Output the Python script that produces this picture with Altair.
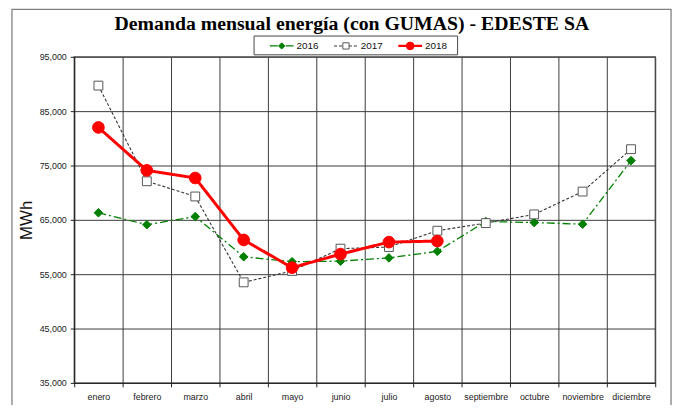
import altair as alt
import pandas as pd

meses = ["enero", "febrero", "marzo", "abril", "mayo", "junio", "julio",
         "agosto", "septiembre", "octubre", "noviembre", "diciembre"]
v2016 = [66300, 64100, 65600, 58200, 57300, 57400, 58000, 59200, 64700, 64500, 64200, 75900]
v2017 = [89700, 72100, 69300, 53500, 55600, 59700, 60000, 63000, 64400, 66000, 70200, 78000]
v2018 = [82000, 74100, 72700, 61300, 56200, 58700, 60900, 61100]
series_names = ["2016", "2017", "2018"]
titulo = "Demanda mensual energía (con GUMAS) - EDESTE SA"
y_ticks = [35000, 45000, 55000, 65000, 75000, 85000, 95000]

W, H = 588, 330
FONT = "Liberation Sans"

x_axis = alt.Axis(tickBand="extent", grid=True, gridColor="#3a3a3a",
                  gridWidth=1, tickColor="#222", tickSize=4, domainColor="#222",
                  labelFont=FONT, labelFontSize=9, labelColor="#222", labelPadding=6,
                  labelAngle=0, title=None)
y_axis = alt.Axis(values=y_ticks, format=",d", grid=True, gridColor="#3a3a3a", gridWidth=1,
                  tickColor="#222", tickSize=4, domainColor="#222", labelFont=FONT,
                  labelFontSize=9, labelColor="#222", labelPadding=4,
                  title="MWh", titleFont=FONT, titleFontSize=17, titleFontWeight="normal",
                  titleColor="#111", titleAngle=-90, titleX=-43, titleY=H / 2,
                  titleBaseline="alphabetic", titleAlign="center")


def xenc():
    return alt.X("mes:N", sort=meses,
                 scale=alt.Scale(type="band", domain=meses, paddingInner=0, paddingOuter=0),
                 bandPosition=0.5, axis=x_axis)


def yenc():
    return alt.Y("v:Q", scale=alt.Scale(domain=[35000, 95000], nice=False, zero=False),
                 axis=y_axis)


def df_for(vals):
    return pd.DataFrame({"mes": meses[:len(vals)], "v": vals})


styles = {
    "2016": dict(color="#008000", dash=[8, 3, 2, 3], width=1.3, shape="diamond",
                 size=75, fill="#008000", pstroke="#008000", lsize=40),
    "2017": dict(color="#333333", dash=[3, 2], width=1.1, shape="square",
                 size=80, fill="white", pstroke="#555555", lsize=40),
    "2018": dict(color="#ff0000", dash=[1, 0], width=3, shape="circle",
                 size=140, fill="#ff0000", pstroke="#ff0000", lsize=60),
}

layers = []

# outer frame
frame_df = pd.DataFrame({"t": [titulo]})
layers.append(
    alt.Chart(frame_df).mark_rect(fillOpacity=0, stroke="#808080", strokeWidth=1.3)
    .encode(x=alt.value(-63), x2=alt.value(604), y=alt.value(-48), y2=alt.value(370))
)

for name, vals in zip(series_names, [v2016, v2017, v2018]):
    s = styles[name]
    base = alt.Chart(df_for(vals)).encode(x=xenc(), y=yenc())
    layers.append(base.mark_line(color=s["color"], strokeDash=s["dash"],
                                 strokeWidth=s["width"]))
    layers.append(base.mark_point(shape=s["shape"], size=s["size"], filled=True,
                                  fill=s["fill"], stroke=s["pstroke"], strokeWidth=1,
                                  opacity=1))

# legend box
leg_df = pd.DataFrame({"n": series_names})
layers.append(
    alt.Chart(leg_df.head(1)).mark_rect(fill="white", stroke="#444", strokeWidth=1)
    .encode(x=alt.value(182), x2=alt.value(388), y=alt.value(-21), y2=alt.value(-2))
)
leg_x = [198, 263, 328]
for i, name in enumerate(series_names):
    s = styles[name]
    d = pd.DataFrame({"n": [name]})
    x0 = leg_x[i]
    layers.append(
        alt.Chart(d).mark_rule(color=s["color"], strokeDash=s["dash"],
                               strokeWidth=min(s["width"], 2.2))
        .encode(x=alt.value(x0), x2=alt.value(x0 + 24), y=alt.value(-11))
    )
    layers.append(
        alt.Chart(d).mark_point(shape=s["shape"], size=s["lsize"], filled=True,
                                fill=s["fill"], stroke=s["pstroke"], strokeWidth=1, opacity=1)
        .encode(x=alt.value(x0 + 12), y=alt.value(-11))
    )
    layers.append(
        alt.Chart(d).mark_text(font=FONT, fontSize=10, color="#111", align="left",
                               baseline="middle")
        .encode(text="n:N", x=alt.value(x0 + 27), y=alt.value(-11))
    )

# title
layers.append(
    alt.Chart(frame_df).mark_text(font="Liberation Serif", fontSize=20, fontWeight="bold",
                                  color="#000", align="center", baseline="middle")
    .encode(text="t:N", x=alt.value(281), y=alt.value(-33))
)

chart = alt.layer(*layers).properties(
    width=W, height=H,
    autosize=alt.AutoSizeParams(type="none"),
    padding={"left": 67, "top": 47, "right": 20, "bottom": 20},
).configure_view(stroke="#808080", strokeWidth=1.5)

chart.save("out.html", embed_options={"renderer": "svg", "actions": False})
